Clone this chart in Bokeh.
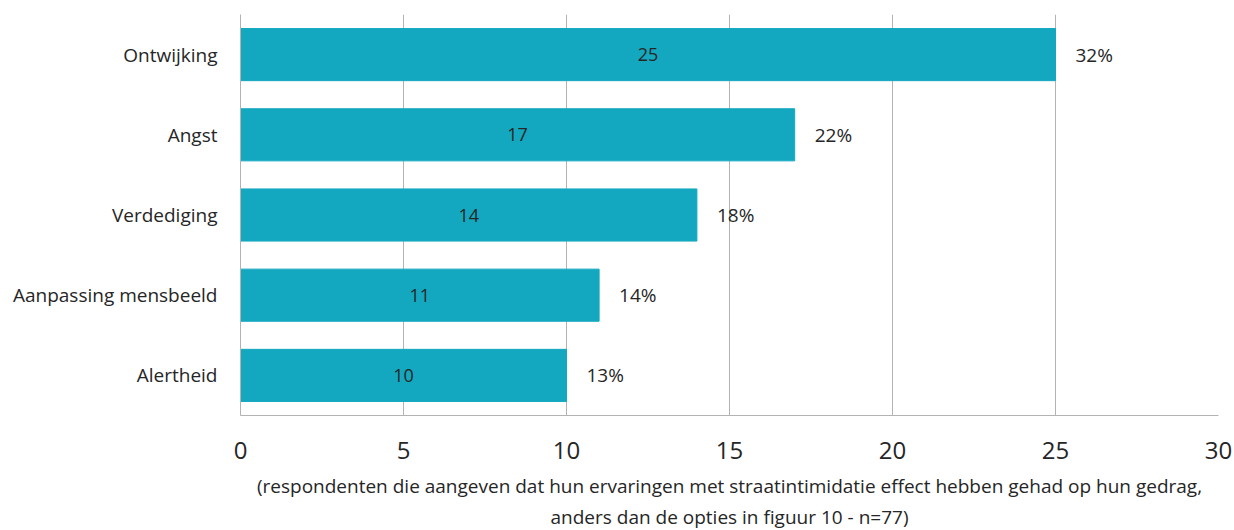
from bokeh.plotting import figure
from bokeh.models import ColumnDataSource, Range1d, FixedTicker
from bokeh.core.properties import value
from bokeh.embed import file_html
from bokeh.resources import INLINE

categories = ["Alertheid", "Aanpassing mensbeeld", "Verdediging", "Angst", "Ontwijking"]
counts = [10, 11, 14, 17, 25]
percents = ["13%", "14%", "18%", "22%", "32%"]
x_ticks = [0, 5, 10, 15, 20, 25, 30]
axis_title = ("(respondenten die aangeven dat hun ervaringen met straatintimidatie effect hebben gehad op hun gedrag,\n"
              "anders dan de opties in figuur 10 - n=77)")

FONT = "Open Sans"
BAR = "#14a8c0"
TXT = "#262626"
GRID = "#b3b3b3"

src = ColumnDataSource(dict(
    cat=categories, n=counts, pct=percents,
    mid=[c / 2 for c in counts], lbl=[str(c) for c in counts],
))

p = figure(y_range=categories, x_range=Range1d(0, 30),
           frame_width=978, frame_height=401,
           output_backend="svg", toolbar_location=None,
           min_border_left=240, min_border_right=14, min_border_top=14, min_border_bottom=60)
p.outline_line_color = None

p.hbar(y="cat", right="n", left=0, height=0.65, color=BAR, source=src)
p.text(x="mid", y="cat", text="lbl", source=src, text_align="center", text_baseline="middle",
       text_font=value(FONT), text_font_size="18px", text_color=TXT)
p.text(x="n", y="cat", text="pct", source=src, text_align="left", text_baseline="middle",
       x_offset=20, text_font=value(FONT), text_font_size="19px", text_color=TXT)

p.xaxis.ticker = FixedTicker(ticks=x_ticks)
p.xaxis.axis_line_color = GRID
p.xaxis.major_tick_line_color = None
p.xaxis.minor_tick_line_color = None
p.xaxis.major_label_text_font = FONT
p.xaxis.major_label_text_font_size = "24px"
p.xaxis.major_label_text_color = TXT
p.xaxis.major_label_standoff = 20
p.xaxis.axis_label = axis_title
p.xaxis.axis_label_text_font = FONT
p.xaxis.axis_label_text_font_size = "19px"
p.xaxis.axis_label_text_font_style = "normal"
p.xaxis.axis_label_text_color = TXT
p.xaxis.axis_label_standoff = 11

p.yaxis.axis_line_color = GRID
p.yaxis.major_tick_line_color = None
p.yaxis.minor_tick_line_color = None
p.yaxis.major_label_text_font = FONT
p.yaxis.major_label_text_font_size = "19px"
p.yaxis.major_label_text_color = TXT
p.yaxis.major_label_standoff = 17

p.xgrid.grid_line_color = GRID
p.xgrid.grid_line_width = 1
p.ygrid.grid_line_color = None
p.y_range.range_padding = 0

open("out.html", "w").write(file_html(p, INLINE))
